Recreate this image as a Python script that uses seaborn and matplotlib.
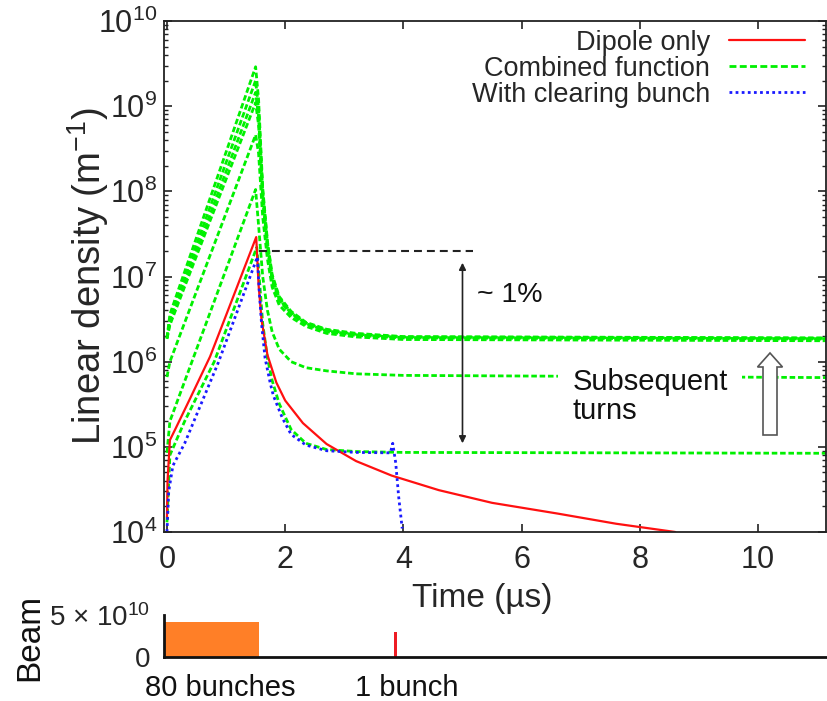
import matplotlib
matplotlib.use("Agg")
import numpy as np
import pandas as pd
import matplotlib.pyplot as plt
import seaborn as sns
from matplotlib.lines import Line2D
from matplotlib.patches import FancyArrow
from matplotlib.ticker import LogLocator, NullFormatter, FixedLocator

sns.set_theme(style="ticks")
plt.rcParams["font.family"] = ["Liberation Sans", "DejaVu Sans"]
plt.rcParams["mathtext.fontset"] = "custom"
plt.rcParams["mathtext.rm"] = "Liberation Sans"
plt.rcParams["mathtext.it"] = "Liberation Sans:italic"
plt.rcParams["mathtext.bf"] = "Liberation Sans:bold"

# ---------------- data ----------------
dipole_t = [0.0, 0.01, 0.05, 0.15, 0.4, 0.73, 1.0, 1.51, 1.55, 1.6, 1.7, 1.85,
            2.0, 2.3, 2.7, 3.2, 3.8, 4.6, 5.5, 6.6, 7.6, 8.6]
dipole_v = [1.5e4, 4e4, 1.2e5, 1.66e5, 3.8e5, 1.15e6, 3.5e6, 2.9e7, 8.0e6, 3.1e6,
            1.2e6, 5.7e5, 3.5e5, 1.9e5, 1.08e5, 6.8e4, 4.6e4, 3.1e4, 2.2e4,
            1.65e4, 1.25e4, 1.0e4]

clearing_t = [0.0, 0.03, 0.1, 0.3, 0.87, 1.53, 1.56, 1.6, 1.66, 1.75, 1.8, 1.95,
              2.1, 2.35, 2.7, 3.2, 3.78, 3.82, 3.87, 3.92, 3.98]
clearing_v = [1.0e4, 3e4, 6e4, 1.1e5, 9.8e5, 1.7e7, 7.0e6, 2.8e6, 1.1e6, 5.5e5,
              4.0e5, 2.2e5, 1.4e5, 1.05e5, 9.0e4, 8.6e4, 8.5e4, 1.1e5, 6.5e4,
              2.6e4, 1.1e4]

combined_t1 = [0.0, 0.05, 0.3, 0.8, 1.52, 1.56, 1.62, 1.7, 1.78, 1.9, 2.1, 2.35,
               2.7, 3.2, 4.0, 11.2]
combined_turn1 = [1.3e4, 8e4, 2.0e5, 1.0e6, 2.2e7, 1.0e7, 2.8e6, 1.1e6, 6.0e5,
                  3.2e5, 1.6e5, 1.1e5, 9.3e4, 8.8e4, 8.6e4, 8.4e4]

combined_t = [0.0, 0.05, 1.5, 1.55, 1.62, 1.7, 1.78, 1.9, 2.1, 2.35, 2.7, 3.2, 4.0, 11.2]
combined_turn2 = [8.5e4, 2.0e5, 1.05e8, 4.0e7, 1.0e7, 4.0e6, 2.24e6, 1.4e6, 1.0e6,
                  8.5e5, 7.8e5, 7.2e5, 6.9e5, 6.5e5]
combined_turn3 = [6.6e5, 1.0e6, 4.6e8, 2.8e8, 5.0e7, 1.6e7, 7.5e6, 4.6e6, 3.3e6,
                  2.6e6, 2.15e6, 1.95e6, 1.82e6, 1.76e6]
combined_turn4 = [1.85e6, 2.7e6, 1.1e9, 6.0e8, 8.0e7, 2.1e7, 9.0e6, 5.2e6, 3.6e6,
                  2.75e6, 2.25e6, 2.03e6, 1.9e6, 1.84e6]
combined_turn5 = [1.88e6, 2.9e6, 1.45e9, 7.5e8, 9.0e7, 2.3e7, 9.5e6, 5.4e6, 3.7e6,
                  2.8e6, 2.3e6, 2.07e6, 1.92e6, 1.86e6]
combined_turn6 = [1.9e6, 3.2e6, 2.0e9, 9.5e8, 1.0e8, 2.5e7, 1.0e7, 5.6e6, 3.8e6,
                  2.85e6, 2.35e6, 2.1e6, 1.95e6, 1.88e6]
combined_turn7 = [1.9e6, 3.6e6, 2.9e9, 1.2e9, 1.1e8, 2.6e7, 1.05e7, 5.8e6, 3.9e6,
                  2.9e6, 2.4e6, 2.15e6, 1.97e6, 1.9e6]

legend_labels = ["Dipole only", "Combined function", "With clearing bunch"]
x_ticks = [0, 2, 4, 6, 8, 10]

# beam panel
train_start, train_end, train_intensity = 0.0, 1.6, 4.2e10
bunch_time, bunch_width, bunch_intensity = 3.9, 0.05, 3.0e10
beam_ticks = [0, 5e10]
beam_tick_labels = ["0", "5 \u00d7 10$^{10}$"]

# reference level annotation
ref_level = 2e7
arrow_top, arrow_bottom = 1.45e7, 1.1e5

# ---------------- frames ----------------
df_dipole = pd.DataFrame({"time": dipole_t, "density": dipole_v})
df_clear = pd.DataFrame({"time": clearing_t, "density": clearing_v})
green_frames = [pd.DataFrame({"time": combined_t1, "density": combined_turn1, "turn": 1})]
for k, vals in enumerate([combined_turn2, combined_turn3, combined_turn4,
                          combined_turn5, combined_turn6, combined_turn7], start=2):
    green_frames.append(pd.DataFrame({"time": combined_t, "density": vals, "turn": k}))
df_green = pd.concat(green_frames, ignore_index=True)

# ---------------- figure ----------------
W, H = 828, 701
fig = plt.figure(figsize=(W / 100, H / 100), dpi=100)
fig.patch.set_facecolor("white")

ax = fig.add_axes([164 / W, 1 - 532 / H, 662 / W, 511 / H])
ax.set_facecolor("white")

RED = "#ff1010"
GREEN = "#00f000"
BLUE = "#1a1aff"

green_ls = (0, (2.0, 1.0))
blue_ls = (0, (1.0, 1.2))

sns.lineplot(data=df_green, x="time", y="density", units="turn", estimator=None,
             color=GREEN, lw=2.0, linestyle=green_ls, ax=ax, legend=False)
sns.lineplot(data=df_dipole, x="time", y="density", estimator=None,
             color=RED, lw=1.6, ax=ax, legend=False)
sns.lineplot(data=df_clear, x="time", y="density", estimator=None,
             color=BLUE, lw=2.0, linestyle=blue_ls, ax=ax, legend=False)

ax.set_yscale("log")
ax.set_ylim(1e4, 1e10)
ax.set_xlim(-0.05, 11.15)
ax.xaxis.set_major_locator(FixedLocator(x_ticks))
ax.yaxis.set_major_locator(LogLocator(base=10, numticks=20))
ax.yaxis.set_minor_locator(LogLocator(base=10, subs=np.arange(2, 10), numticks=20))
ax.yaxis.set_minor_formatter(NullFormatter())

for s in ax.spines.values():
    s.set_color("#222222")
    s.set_linewidth(1.3)
ax.tick_params(which="both", direction="in", top=True, right=True, color="#222222")
ax.tick_params(which="major", length=6, width=1.2, labelsize=22, pad=5)
ax.tick_params(axis="x", which="major", pad=9)
ax.tick_params(which="minor", length=3, width=1.0)

ax.set_xlabel("Time (\u00b5s)", fontsize=24)
ax.xaxis.set_label_coords((482 - 164) / 662, -(583 - 532) / 511)
ax.set_ylabel("Linear density (m$^{-1}$)", fontsize=27.5)
ax.yaxis.set_label_coords(-(164 - 88) / 662, 0.5)
ax.yaxis.label.set_va("center")

# legend
handles = [Line2D([], [], color=RED, lw=1.6),
           Line2D([], [], color=GREEN, lw=2.0, linestyle=(0, (2.5, 1.2))),
           Line2D([], [], color=BLUE, lw=2.0, linestyle=blue_ls)]
ax.legend(handles, legend_labels, loc="upper right", frameon=False,
          markerfirst=False, fontsize=19.5, handlelength=2.8, handletextpad=0.7,
          labelspacing=0.0, borderaxespad=0, borderpad=0.4,
          bbox_to_anchor=((816 - 164) / 662, (532 - 19) / 511))

# annotations
ax.plot([1.55, 5.17], [ref_level, ref_level], color="#222222", lw=1.5,
        linestyle=(0, (3.8, 2.4)))
ax.annotate("", xy=(5.0, arrow_bottom), xytext=(5.0, arrow_top),
            arrowprops=dict(arrowstyle="<|-|>", color="#222222", lw=1.2,
                            shrinkA=0, shrinkB=0, mutation_scale=10))
ax.text(5.25, 6e6, "~ 1%", fontsize=20.5, va="center", ha="left", color="#111111")
ax.text(6.86, 3.9e5, "Subsequent\nturns", fontsize=21, va="center", ha="left",
        linespacing=1.05, color="#111111", zorder=5,
        bbox=dict(fc="white", ec="none", pad=10))
ax.add_patch(FancyArrow((770 - 164) / 662, (532 - 435) / 511, 0, (435 - 353) / 511,
                        width=14 / 662, head_width=25 / 662, head_length=14 / 511,
                        length_includes_head=True, transform=ax.transAxes,
                        fc="white", ec="#555555", lw=1.2, zorder=6))

# ---------------- beam panel ----------------
bx = fig.add_axes([164 / W, 1 - 657 / H, (W - 164) / W, 42 / H])
bx.set_facecolor("white")
bx.bar([train_start], [train_intensity], width=train_end - train_start,
       align="edge", color="#ff7f27", edgecolor="none")
bx.bar([bunch_time], [bunch_intensity], width=bunch_width, align="center",
       color="#ee1c24", edgecolor="none")
bx.set_xlim(0, 11.2)
bx.set_ylim(0, 5e10)
bx.set_xticks([])
bx.set_yticks(beam_ticks)
bx.set_yticklabels(beam_tick_labels)
bx.tick_params(axis="y", length=0, labelsize=20, pad=10)
for side in ["top", "right"]:
    bx.spines[side].set_visible(False)
for side in ["left", "bottom"]:
    bx.spines[side].set_color("#111111")
    bx.spines[side].set_linewidth(2.0)
tr = bx.get_xaxis_transform()
bx.text(0.95, -(688 - 657) / 42, "80 bunches", transform=tr, ha="center",
        va="center", fontsize=21, color="#111111")
bx.text(4.1, -(688 - 657) / 42, "1 bunch", transform=tr, ha="center",
        va="center", fontsize=21, color="#111111")
fig.text(30 / W, 1 - 637 / H, "Beam", rotation=90, ha="center", va="center",
         fontsize=24, color="#111111")

fig.savefig("out.png", dpi=100, facecolor="white")
